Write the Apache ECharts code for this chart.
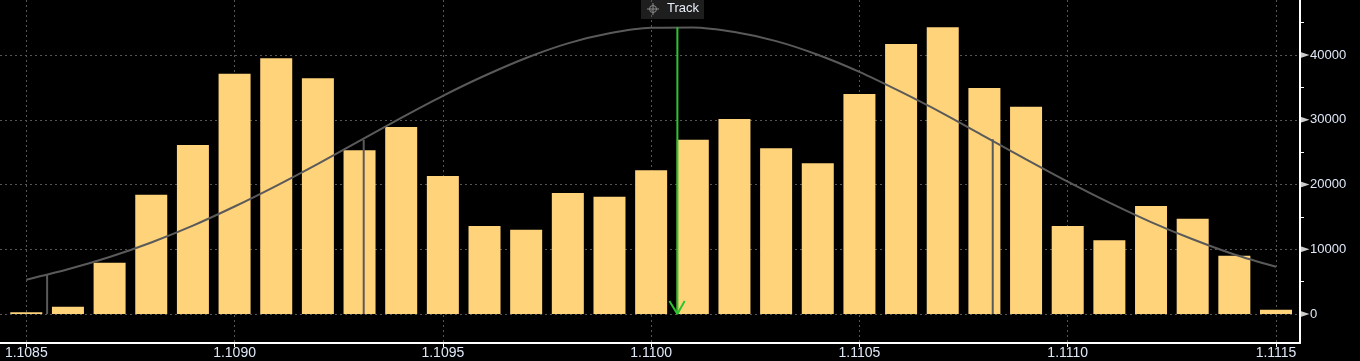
<!DOCTYPE html>
<html>
<head>
<meta charset="utf-8">
<script src="https://cdn.jsdelivr.net/npm/echarts@6/dist/echarts.min.js"></script>
<style>
html,body{margin:0;padding:0;background:#000;}
#chart{width:1360px;height:361px;}
</style>
</head>
<body>
<div id="chart"></div>
<script>
// ---- data ----
const binCenters = [1.1085,1.1086,1.1087,1.1088,1.1089,1.1090,1.1091,1.1092,1.1093,1.1094,
  1.1095,1.1096,1.1097,1.1098,1.1099,1.1100,1.1101,1.1102,1.1103,1.1104,
  1.1105,1.1106,1.1107,1.1108,1.1109,1.1110,1.1111,1.1112,1.1113,1.1114,1.1115];
const binCounts = [260,1100,7900,18400,26100,37100,39500,36400,25300,28900,
  21300,13600,13000,18700,18100,22200,26900,30100,25600,23300,
  34000,41700,44300,34900,32000,13600,11400,16700,14700,9000,650];
const curveY = [5300,6900,8800,11050,13650,16600,19800,23200,26750,30300,
  33700,36800,39550,41800,43350,44200,44250,43550,42150,40050,
  37400,34300,31000,27450,23900,20450,17200,14200,11550,9200,7300];
const sigmaX = [1.10855,1.10931,1.11082];
const sigmaTop = [6100,26900,27000];
const trackX = 1.110063;
const trackTop = 44300;
const xTickLabels = [1.1085,1.1090,1.1095,1.1100,1.1105,1.1110,1.1115];
const yTickLabels = [0,10000,20000,30000,40000];
const yMinorTicks = [5000,15000,25000,35000,45000];

const X_MIN = 1.1084369, X_MAX = 1.1115576;
const Y_MIN = -4480, Y_MAX = 48500;

const FONT = '"Liberation Sans", Arial, sans-serif';
const chart = echarts.init(document.getElementById('chart'));

const series = [];
series.push({
  type:'bar', data: binCenters.map((x,i)=>[x,binCounts[i]]),
  barWidth:32, barMinHeight:1, itemStyle:{color:'#ffd37a'}, silent:true, z:2
});
series.push({
  type:'line', data: binCenters.map((x,i)=>[x,curveY[i]]),
  symbol:'none', smooth:0.3, lineStyle:{color:'#5a5a5a', width:2}, z:3, silent:true
});
sigmaX.forEach((x,i)=>{
  series.push({
    type:'line', data:[[x,0],[x,sigmaTop[i]]], symbol:'none',
    lineStyle:{color:'#5a5a5a', width:2}, z:3, silent:true
  });
});
// green track arrow
series.push({
  type:'line', data:[[trackX,trackTop],[trackX,0]], symbol:'none',
  lineStyle:{color:'#2ec42e', width:2}, z:5, silent:true
});
series.push({
  type:'line', data:[[trackX-0.0000192,2000],[trackX,0],[trackX+0.0000175,2000]], symbol:'none',
  lineStyle:{color:'#2ec42e', width:2}, z:5, silent:true
});
// axis label pointer triangles
series.push({
  type:'scatter', yAxisIndex:0,
  data: yTickLabels.map(v=>[X_MAX,v]),
  symbol:'triangle', symbolRotate:-90, symbolSize:[6,9], symbolOffset:[5,0],
  itemStyle:{color:'#ffffff'}, clip:false, silent:true, z:6
});

chart.setOption({
  backgroundColor:'#000000',
  animation:false,
  grid:{left:0, right:60, top:0, bottom:18, containLabel:false},
  xAxis:{
    type:'value', min:X_MIN, max:X_MAX, position:'bottom',
    axisLine:{show:true, onZero:false, lineStyle:{color:'#ffffff', width:2}},
    axisTick:{show:true, customValues:xTickLabels, length:4, lineStyle:{color:'#ffffff', width:1}},
    axisLabel:{customValues:xTickLabels, color:'#dfe8f7', fontSize:14, margin:3,
      fontFamily:FONT, formatter:v=>v.toFixed(4)},
    splitLine:{show:true, lineStyle:{color:'#555555', type:[2,3], width:1}}
  },
  yAxis:[{
    type:'value', min:Y_MIN, max:Y_MAX, position:'right',
    axisLine:{show:true, onZero:false, lineStyle:{color:'#ffffff', width:2}},
    axisTick:{show:false, customValues:yTickLabels},
    axisLabel:{customValues:yTickLabels, color:'#dfe8f7', fontSize:13, margin:10,
      fontFamily:FONT, formatter:v=>String(v)},
    splitLine:{show:true, lineStyle:{color:'#555555', type:[2,3], width:1}}
  },{
    type:'value', min:Y_MIN, max:Y_MAX, position:'right',
    axisLine:{show:false, onZero:false},
    axisTick:{show:true, customValues:yMinorTicks, length:4, lineStyle:{color:'#ffffff', width:1}},
    axisLabel:{show:false},
    splitLine:{show:false}
  }],
  graphic:[{
    type:'group', left:641, top:0, silent:true, z:100,
    children:[
      {type:'rect', shape:{x:0,y:0,width:63,height:19}, style:{fill:'#1e1e1e'}},
      {type:'circle', shape:{cx:12,cy:9,r:3.5}, style:{fill:'none', stroke:'#8a8a8a', lineWidth:1}},
      {type:'line', shape:{x1:12,y1:3,x2:12,y2:15}, style:{stroke:'#8a8a8a', lineWidth:1}},
      {type:'line', shape:{x1:6,y1:9,x2:18,y2:9}, style:{stroke:'#8a8a8a', lineWidth:1}},
      {type:'text', x:26, y:2, style:{text:'Track', fill:'#e8eef8', fontSize:13, fontFamily:FONT}}
    ]
  }],
  series: series
});
</script>
</body>
</html>
